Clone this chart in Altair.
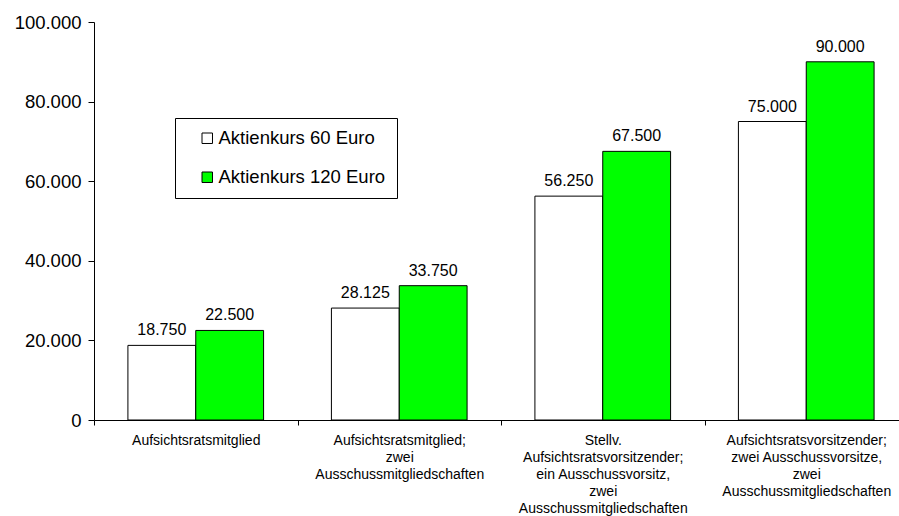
import altair as alt
import pandas as pd

categories = [
    "Aufsichtsratsmitglied",
    "Aufsichtsratsmitglied;\nzwei\nAusschussmitgliedschaften",
    "Stellv.\nAufsichtsratsvorsitzender;\nein Ausschussvorsitz,\nzwei\nAusschussmitgliedschaften",
    "Aufsichtsratsvorsitzender;\nzwei Ausschussvorsitze,\nzwei\nAusschussmitgliedschaften",
]
series = ["Aktienkurs 60 Euro", "Aktienkurs 120 Euro"]
values_60 = [18750, 28125, 56250, 75000]
values_120 = [22500, 33750, 67500, 90000]
colors = ["#FFFFFF", "#00FF00"]
y_ticks = [0, 20000, 40000, 60000, 80000, 100000]

rows = []
for c, a, b in zip(categories, values_60, values_120):
    rows.append({"cat": c, "series": series[0], "value": a})
    rows.append({"cat": c, "series": series[1], "value": b})
df = pd.DataFrame(rows)
df["label"] = df["value"].map(lambda v: f"{v:,}".replace(",", "."))

FONT = "Liberation Sans"

x_enc = alt.X(
    "cat:N",
    sort=categories,
    scale=alt.Scale(range=[0, 814], paddingInner=0, paddingOuter=0),
    axis=alt.Axis(
        title=None,
        labelAngle=0,
        labelExpr="split(datum.label, '\\n')",
        labelFontSize=14,
        labelLineHeight=17,
        labelFont=FONT,
        labelColor="#000000",
        labelLimit=400,
        labelPadding=8,
        labelOverlap=False,
        tickBand="extent",
        tickSize=5,
        tickColor="#000000",
        domainColor="#000000",
    ),
)
xoff = alt.XOffset(
    "series:N",
    sort=series,
    scale=alt.Scale(paddingInner=0, paddingOuter=0.5),
)
y_enc = alt.Y(
    "value:Q",
    scale=alt.Scale(domain=[0, 100000], nice=False),
    axis=alt.Axis(
        title=None,
        values=y_ticks,
        grid=False,
        labelExpr="replace(format(datum.value, ','), ',', '.')",
        labelFontSize=18.5,
        labelFont=FONT,
        labelColor="#000000",
        labelPadding=7,
        tickSize=6,
        tickColor="#000000",
        domainColor="#000000",
    ),
)

bars = alt.Chart(df).mark_bar(stroke="#000000", strokeWidth=1).encode(
    x=x_enc,
    xOffset=xoff,
    y=y_enc,
    color=alt.Color(
        "series:N",
        sort=series,
        scale=alt.Scale(domain=series, range=colors),
        legend=alt.Legend(
            title=None,
            orient="none",
            legendX=81,
            legendY=96,
            padding=11,
            rowPadding=20,
            symbolType="square",
            symbolSize=110,
            symbolStrokeColor="#000000",
            symbolStrokeWidth=1,
            symbolOffset=12,
            labelOffset=2,
            labelFontSize=18.5,
            labelFont=FONT,
            labelColor="#000000",
            labelLimit=400,
            strokeColor="#000000",
            fillColor="#FFFFFF",
        ),
    ),
)

labels = alt.Chart(df).mark_text(
    fontSize=16, font=FONT, color="#000000", baseline="alphabetic", dy=-10
).encode(
    x=alt.X("cat:N", sort=categories),
    xOffset=alt.XOffset("series:N", sort=series),
    y="value:Q",
    text="label:N",
)

chart = (
    alt.layer(bars, labels)
    .properties(
        width=805,
        height=398,
        autosize=alt.AutoSizeParams(type="none"),
        padding={"left": 94, "top": 22, "right": 0, "bottom": 96},
        background="#FFFFFF",
    )
    .configure_view(stroke=None)
)

chart.save("out.html", embed_options={"renderer": "svg", "actions": False})
